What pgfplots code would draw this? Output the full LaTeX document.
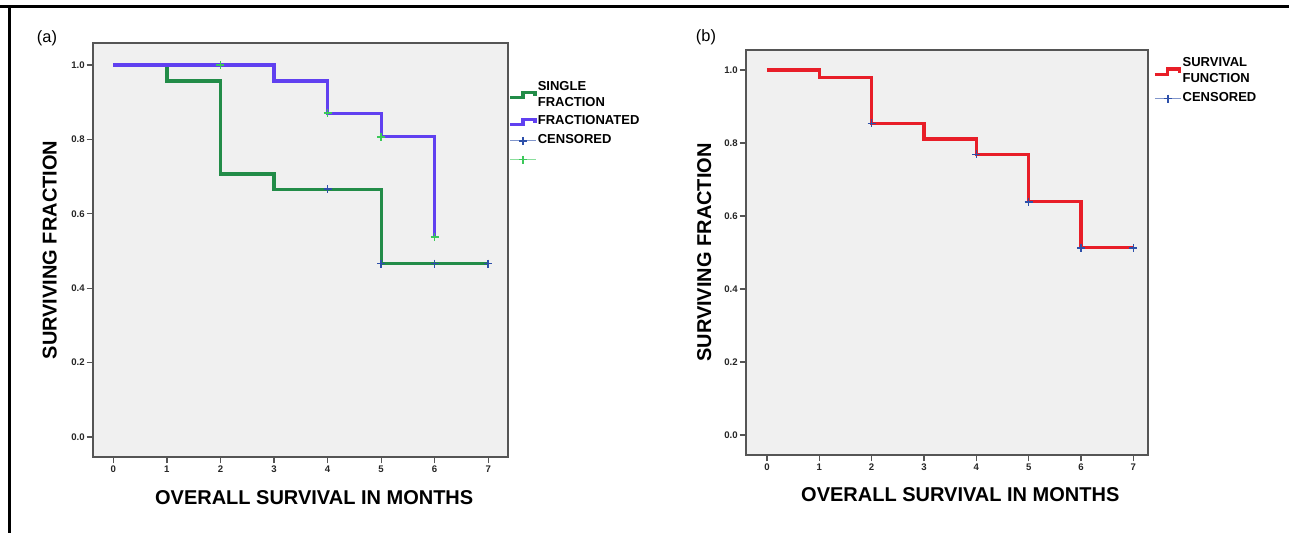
\documentclass[border=0pt]{standalone}
\usepackage{pgfplots}
\pgfplotsset{compat=1.18}
\usepackage{fontspec}
\setmainfont{Liberation Sans}
\definecolor{sgreen}{RGB}{34,140,72}
\definecolor{spurple}{RGB}{96,64,240}
\definecolor{sred}{RGB}{232,30,40}
\definecolor{cblue}{RGB}{45,80,170}
\definecolor{cgreen}{RGB}{60,200,90}
\definecolor{bgc}{RGB}{240,240,240}
\definecolor{axc}{RGB}{85,85,85}
\pgfplotsset{
  steplegend/.style={legend image code/.code={
    \draw[##1] (0pt,-1.2pt) -- (6.5pt,-1.2pt) -- (6.5pt,1.4pt) -- (12.5pt,1.4pt) -- (12.5pt,-0.6pt);}},
  censlegend/.style={legend image code/.code={
    \draw[##1,line width=0.5pt,opacity=0.6] (0pt,0pt) -- (13pt,0pt);
    \draw[##1] plot coordinates {(6.5pt,0pt)};}},
  kmaxis/.style={
    scale only axis,
    axis background/.style={fill=bgc},
    axis line style={axc,line width=1pt},
    xmin=-0.38, xmax=7.37, ymin=-0.054, ymax=1.059,
    xtick={0,1,2,3,4,5,6,7},
    ytick={0,0.2,0.4,0.6,0.8,1.0},
    xtick pos=bottom, ytick pos=left,
    tick align=outside,
    major tick length=3.2pt,
    tick style={axc,line width=0.6pt},
    /pgf/number format/assume math mode=true,
    yticklabel={\pgfmathprintnumber[fixed,fixed zerofill,precision=1]{\tick}},
    xticklabel={\pgfmathprintnumber{\tick}},
    ticklabel style={font=\fontsize{4.8}{5}\selectfont\bfseries, text=black!85, inner sep=0.8pt},
    label style={font=\fontsize{10}{12}\selectfont\bfseries},
    xlabel={OVERALL SURVIVAL IN MONTHS},
    ylabel={SURVIVING FRACTION},
    xlabel style={at={(axis description cs:0.533,-0.099)}, anchor=center},
    ylabel style={at={(axis description cs:-0.104,0.5)}, anchor=center},
    legend cell align=left,
    legend style={draw=none, fill=none, inner sep=0pt, row sep=2.2pt,
      font=\fontsize{6.5}{8}\selectfont\bfseries,
      cells={align=left}, nodes={inner sep=0.6pt}},
  }
}
\begin{document}
\begin{tikzpicture}
\useasboundingbox (0pt,0pt) rectangle (644.5pt,-266.5pt);
\draw[line width=1.1pt] (0pt,-3.3pt) -- (644.5pt,-3.3pt);
\draw[line width=1.5pt] (4.9pt,-3.3pt) -- (4.9pt,-266.5pt);
\node[font=\fontsize{8.2}{10}\selectfont] at (23.5pt,-19pt) {(a)};
\node[font=\fontsize{8.2}{10}\selectfont] at (353pt,-18.5pt) {(b)};

\begin{axis}[kmaxis,
  at={(46.5pt,-228.5pt)}, anchor=south west,
  width=207.5pt, height=207pt,
  legend style={at={(axis description cs:1.0,0.912)}, anchor=north west}]
\addplot[const plot, color=sgreen, line width=1.6pt, steplegend] coordinates {
 (0,1.0) (1,0.957) (2,0.707) (3,0.666) (5,0.466) (7,0.466)};
\addlegendentry{SINGLE\\FRACTION}
\addplot[const plot, color=spurple, line width=1.6pt, steplegend] coordinates {
 (0,1.0) (3,0.957) (4,0.870) (5,0.807) (6,0.537)};
\addlegendentry{FRACTIONATED}
\addplot[only marks, mark=+, mark size=2pt, color=cblue, line width=0.8pt, censlegend] coordinates {
 (4,0.666) (5,0.466) (6,0.466) (7,0.466)};
\addlegendentry{CENSORED}
\addplot[only marks, mark=+, mark size=2pt, color=cgreen, line width=0.8pt, censlegend] coordinates {
 (2,1.0) (4,0.870) (5,0.807) (6,0.537)};
\addlegendentry{\phantom{X}}
\end{axis}

\begin{axis}[kmaxis,
  at={(373pt,-227.5pt)}, anchor=south west,
  width=201pt, height=202.5pt,
  xmin=-0.40, xmax=7.28, ymin=-0.055, ymax=1.055,
  legend style={at={(axis description cs:1.012,0.985)}, anchor=north west}]
\addplot[const plot, color=sred, line width=1.6pt, steplegend] coordinates {
 (0,1.0) (1,0.980) (2,0.854) (3,0.811) (4,0.769) (5,0.639) (6,0.513) (7,0.513)};
\addlegendentry{SURVIVAL\\FUNCTION}
\addplot[only marks, mark=+, mark size=2pt, color=cblue, line width=0.8pt, censlegend] coordinates {
 (2,0.854) (4,0.769) (5,0.639) (6,0.513) (7,0.513)};
\addlegendentry{CENSORED}
\end{axis}
\end{tikzpicture}
\end{document}
